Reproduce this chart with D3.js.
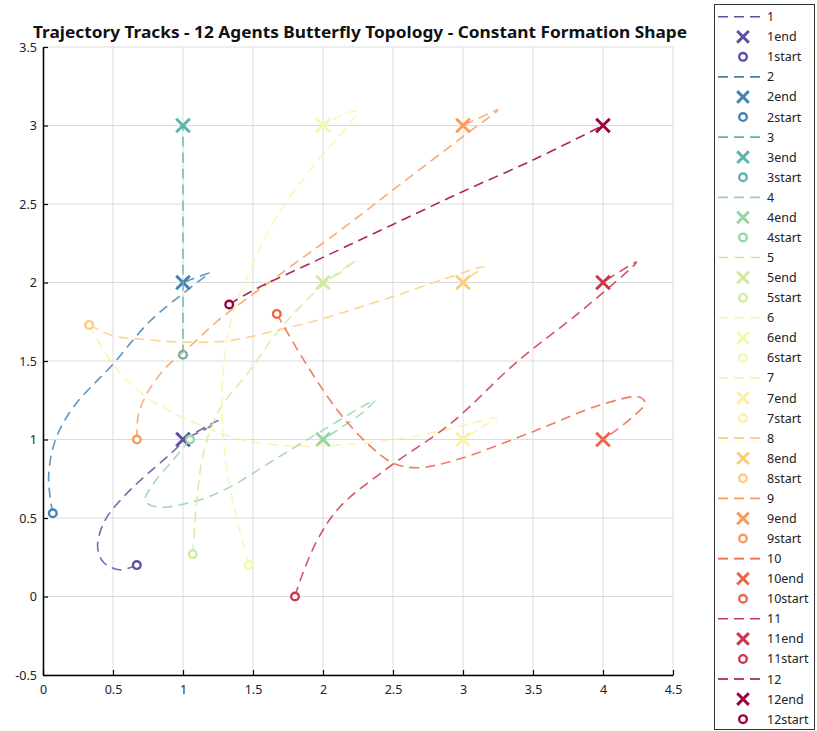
<!DOCTYPE html>
<html>
<head>
<meta charset="utf-8">
<script src="https://cdn.jsdelivr.net/npm/d3@7"></script>
<style>
  html, body { margin: 0; padding: 0; background: #fff; }
  svg { display: block; font-family: "Noto Sans", "DejaVu Sans", sans-serif; }
</style>
</head>
<body>
<svg id="chart" width="817" height="731"></svg>
<script>
// Agent labels
const agents = ["1","2","3","4","5","6","7","8","9","10","11","12"];

// Start positions [x, y]
const startPts = [
  [0.67, 0.20], [0.07, 0.53], [1.00, 1.54], [1.05, 1.00],
  [1.07, 0.27], [1.47, 0.20], [0.33, 1.73], [0.33, 1.73],
  [0.67, 1.00], [1.67, 1.80], [1.80, 0.00], [1.33, 1.86]
];

// Target positions (constant formation shape)
const endPts = [
  [1, 1], [1, 2], [1, 3], [2, 1], [2, 2], [2, 3],
  [3, 1], [3, 2], [3, 3], [4, 1], [4, 2], [4, 3]
];

// Intermediate waypoints of each trajectory, between start and end
const track1  = [[0.55,0.17],[0.43,0.22],[0.39,0.32],[0.44,0.48],[0.56,0.62],[0.72,0.76],[0.90,0.90],[1.05,1.02],[1.25,1.12],[1.17,1.07]];
const track2  = [[0.04,0.76],[0.09,1.00],[0.22,1.21],[0.50,1.48],[0.76,1.75],[1.00,1.93],[1.13,2.02],[1.19,2.06],[1.12,2.04]];
const track3  = [[1.00, 2.20], [1.00, 2.70]];
const track4  = [[0.93,0.87],[0.79,0.72],[0.73,0.61],[0.82,0.57],[1.10,0.61],[1.34,0.70],[1.65,0.87],[2.00,1.06],[2.30,1.22],[2.37,1.25],[2.28,1.17],[2.12,1.07]];
const track5  = [[1.10,0.62],[1.15,0.93],[1.26,1.19],[1.46,1.42],[1.69,1.70],[1.98,1.97],[2.12,2.07],[2.23,2.14],[2.12,2.06]];
const track6  = [[1.38,0.51],[1.31,0.83],[1.28,1.15],[1.29,1.46],[1.35,1.78],[1.46,2.04],[1.67,2.42],[1.93,2.74],[2.15,2.97],[2.25,3.09],[2.14,3.07],[2.04,3.02]];
const track7  = [[0.50,1.48],[0.74,1.27],[1.05,1.12],[1.41,1.00],[1.74,0.96],[2.00,0.96],[2.43,0.99],[2.76,1.04],[3.05,1.10],[3.24,1.14],[3.10,1.06]];
const track8  = [[0.50,1.66],[0.69,1.64],[1.00,1.62],[1.34,1.63],[1.69,1.70],[1.96,1.76],[2.43,1.89],[2.86,2.02],[3.15,2.10],[3.07,2.05]];
const track9  = [[0.68,1.15],[0.74,1.29],[0.88,1.46],[1.07,1.61],[1.24,1.75],[1.69,2.05],[2.12,2.33],[2.53,2.61],[3.03,2.95],[3.25,3.10],[3.12,3.05]];
const track10 = [[1.86,1.51],[2.10,1.19],[2.31,0.98],[2.50,0.85],[2.67,0.82],[2.95,0.87],[3.50,1.05],[3.98,1.22],[4.26,1.27],[4.30,1.23],[4.22,1.15],[4.08,1.05]];
const track11 = [[1.84,0.11],[1.96,0.36],[2.12,0.57],[2.48,0.83],[2.91,1.10],[3.38,1.49],[3.86,1.83],[4.24,2.13],[4.12,2.07]];
const track12 = [[1.48,1.94],[2.00,2.16],[2.50,2.37],[3.00,2.58],[3.50,2.78],[3.91,2.96]];
const tracks = [track1, track2, track3, track4, track5, track6, track7, track8, track9, track10, track11, track12];

// Axis ticks
const xTicks = [0, 0.5, 1, 1.5, 2, 2.5, 3, 3.5, 4, 4.5];
const yTicks = [-0.5, 0, 0.5, 1, 1.5, 2, 2.5, 3, 3.5];

const titleText = "Trajectory Tracks - 12 Agents Butterfly Topology - Constant Formation Shape";

const svg = d3.select("#chart");
const plot = { left: 43, right: 673, top: 47, bottom: 675 };

const x = d3.scaleLinear().domain([0, 4.5]).range([plot.left, plot.right]);
const y = d3.scaleLinear().domain([-0.5, 3.5]).range([plot.bottom, plot.top]);

const color = i => d3.interpolateSpectral(1 - i / (agents.length - 1));

// Grid
const grid = svg.append("g").attr("stroke", "#dcdcdc").attr("stroke-width", 1);
grid.selectAll("line.gx").data(xTicks).join("line")
  .attr("x1", d => x(d)).attr("x2", d => x(d))
  .attr("y1", plot.top).attr("y2", plot.bottom);
grid.selectAll("line.gy").data(yTicks).join("line")
  .attr("x1", plot.left).attr("x2", plot.right)
  .attr("y1", d => y(d)).attr("y2", d => y(d));

// Axes (ticks point inward)
const fmt = d => String(d);
const xAxis = svg.append("g").attr("transform", `translate(0,${plot.bottom})`)
  .call(d3.axisBottom(x).tickValues(xTicks).tickFormat(fmt).tickSizeInner(-5).tickSizeOuter(0).tickPadding(10));
const yAxis = svg.append("g").attr("transform", `translate(${plot.left},0)`)
  .call(d3.axisLeft(y).tickValues(yTicks).tickFormat(fmt).tickSizeInner(-5).tickSizeOuter(0).tickPadding(6));
[xAxis, yAxis].forEach(a => {
  a.select(".domain").attr("stroke", "#000").attr("stroke-width", 1.5);
  a.selectAll(".tick line").attr("stroke", "#000").attr("stroke-width", 1.2);
  a.selectAll(".tick text").attr("fill", "#222").attr("font-size", 12.5)
    .attr("font-family", "'Noto Sans', sans-serif");
});

// Title
svg.append("text")
  .attr("x", 360).attr("y", 38)
  .attr("text-anchor", "middle")
  .attr("font-size", 16).attr("font-weight", "bold").attr("fill", "#111")
  .attr("textLength", 654).attr("lengthAdjust", "spacingAndGlyphs")
  .text(titleText);

const line = d3.line().x(d => x(d[0])).y(d => y(d[1])).curve(d3.curveCatmullRom.alpha(0.5));

function drawCross(g, cx, cy, c, s) {
  g.append("path")
    .attr("d", `M${cx - s},${cy - s}L${cx + s},${cy + s}M${cx - s},${cy + s}L${cx + s},${cy - s}`)
    .attr("stroke", c).attr("stroke-width", 3).attr("fill", "none");
}
function drawRing(g, cx, cy, c) {
  g.append("circle").attr("cx", cx).attr("cy", cy).attr("r", 3.8)
    .attr("fill", "#fff").attr("stroke", c).attr("stroke-width", 2.4);
}

const marks = svg.append("g");
agents.forEach((a, i) => {
  const c = color(i);
  const pts = [startPts[i], ...tracks[i], endPts[i]];
  marks.append("path").datum(pts)
    .attr("d", line)
    .attr("fill", "none").attr("stroke", c).attr("stroke-width", 1.6)
    .attr("stroke-opacity", 0.85)
    .attr("stroke-dasharray", "10,6");
  drawCross(marks, x(endPts[i][0]), y(endPts[i][1]), c, 6.8);
  drawRing(marks, x(startPts[i][0]), y(startPts[i][1]), c);
});

// Legend
const lg = svg.append("g");
lg.append("rect").attr("x", 714.5).attr("y", 4.5).attr("width", 100).attr("height", 725)
  .attr("fill", "#fff").attr("stroke", "#333").attr("stroke-width", 1);
const rowH = 20.07, row0 = 16.7;
agents.forEach((a, i) => {
  const c = color(i);
  const base = row0 + rowH * 3 * i;
  lg.append("line").attr("x1", 718).attr("x2", 763).attr("y1", base).attr("y2", base)
    .attr("stroke", c).attr("stroke-width", 1.6).attr("stroke-dasharray", "10,6");
  drawCross(lg, 743, base + rowH, c, 5.8);
  drawRing(lg, 743, base + 2 * rowH, c);
  [a, a + "end", a + "start"].forEach((t, k) => {
    lg.append("text").attr("x", 767).attr("y", base + k * rowH + 4.5)
      .attr("font-size", 12.5).attr("fill", "#222").text(t);
  });
});
</script>
</body>
</html>
